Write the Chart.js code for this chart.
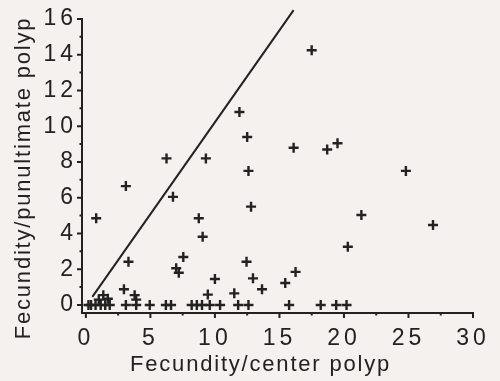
<!DOCTYPE html>
<html><head><meta charset="utf-8">
<script src="https://cdn.jsdelivr.net/npm/chart.js@4"></script>
<style>html,body{margin:0;padding:0;background:#f4f1ee;}canvas{display:block;}</style>
</head><body>
<canvas id="c" width="500" height="381"></canvas>
<script>
const xValues = [17.5, 11.9, 12.5, 16.1, 18.7, 19.5, 6.25, 9.3, 12.6, 24.8, 3.1, 6.75, 12.8, 0.8, 8.75, 9.05, 21.35, 26.9, 20.3, 3.3, 7.55, 7.0, 7.2, 12.45, 10.0, 12.95, 16.25, 15.45, 13.65, 11.5, 9.45, 2.95, 3.78, 3.9, 1.35, 1.0, 1.7,
  0.2, 0.4, 0.75, 1.15, 1.5, 1.85, 3.1, 3.9, 4.95, 6.2, 6.6, 8.2, 8.6, 9.0, 9.6, 10.4, 11.8, 12.6, 15.75, 18.2, 19.4, 20.2];
const yValues = [14.25, 10.8, 9.4, 8.8, 8.7, 9.05, 8.2, 8.2, 7.5, 7.5, 6.65, 6.05, 5.5, 4.85, 4.85, 3.82, 5.03, 4.47, 3.26, 2.42, 2.68, 2.05, 1.8, 2.42, 1.45, 1.49, 1.85, 1.23, 0.88, 0.65, 0.58, 0.88, 0.55, 0.3, 0.55, 0.3, 0.35,
  0, 0, 0, 0, 0, 0, 0, 0, 0, 0, 0, 0, 0, 0, 0, 0, 0, 0, 0, 0, 0, 0];
const lineX = [0.5, 16.1];
const lineY = [0.45, 16.5];
const xTicks = [0, 5, 10, 15, 20, 25, 30];
const xMinorTicks = [2.5, 7.5, 12.5, 17.5, 22.5, 27.5];
const yTicks = [0, 2, 4, 6, 8, 10, 12, 14, 16];
const yMinorTicks = [1, 3, 5, 7, 9, 11, 13, 15];
const xTitle = 'Fecundity/center polyp';
const yTitle = 'Fecundity/punultimate polyp';

const ink = '#222';
const bg = '#f4f1ee';
const fam = '"Liberation Sans", Arial, Helvetica, sans-serif';

const decor = {
  id: 'decor',
  beforeDraw(chart) {
    const ctx = chart.ctx;
    ctx.save(); ctx.fillStyle = bg; ctx.fillRect(0, 0, chart.width, chart.height); ctx.restore();
    for (const s of Object.values(chart.scales)) {
      if (s._patched) continue;
      s._patched = true;
      const dl = s.drawLabels, dt = s.drawTitle;
      const shift = s.axis === 'x' ? [-17, 0] : [0, 12];
      s.drawLabels = function (a) { ctx.save(); ctx.letterSpacing = '4px'; dl.call(this, a); ctx.restore(); };
      s.drawTitle = function () { ctx.save(); ctx.letterSpacing = '1.8px'; ctx.translate(shift[0], shift[1]); dt.call(this); ctx.restore(); };
    }
  },
  afterDraw(chart) {
    const ctx = chart.ctx, xs = chart.scales.x, ys = chart.scales.y;
    const left = chart.chartArea.left, bottom = chart.chartArea.bottom;
    ctx.save();
    ctx.strokeStyle = ink; ctx.lineWidth = 2;
    ctx.beginPath();
    yTicks.forEach(v => { const p = ys.getPixelForValue(v); ctx.moveTo(left, p); ctx.lineTo(left - 5, p); });
    yMinorTicks.forEach(v => { const p = ys.getPixelForValue(v); ctx.moveTo(left, p); ctx.lineTo(left - 2.5, p); });
    xTicks.forEach(v => { const p = xs.getPixelForValue(v); ctx.moveTo(p, bottom); ctx.lineTo(p, bottom + 5); });
    xMinorTicks.forEach(v => { const p = xs.getPixelForValue(v); ctx.moveTo(p, bottom); ctx.lineTo(p, bottom + 2.5); });
    ctx.stroke();
    ctx.restore();
  }
};

new Chart(document.getElementById('c'), {
  type: 'scatter',
  data: {
    datasets: [
      {
        data: xValues.map((x, i) => ({ x, y: yValues[i] })),
        pointStyle: 'cross', pointRadius: 5, pointBorderWidth: 2.4,
        borderColor: ink, backgroundColor: ink, showLine: false, clip: false
      },
      {
        data: lineX.map((x, i) => ({ x, y: lineY[i] })),
        showLine: true, pointRadius: 0, borderColor: ink, borderWidth: 2, clip: false
      }
    ]
  },
  options: {
    responsive: false, animation: false, devicePixelRatio: 1,
    layout: { padding: { top: 19, right: 27, left: 0, bottom: 0 } },
    plugins: { legend: { display: false }, tooltip: { enabled: false } },
    scales: {
      x: {
        type: 'linear', min: -0.3, max: 30,
        afterBuildTicks: s => { s.ticks = xTicks.map(v => ({ value: v })); },
        afterFit: s => { s.height = 68; },
        grid: { display: false, drawTicks: false },
        border: { display: true, color: ink, width: 2 },
        ticks: { autoSkip: false, maxRotation: 0, padding: 12, color: ink, font: { family: fam, size: 23 } },
        title: { display: true, text: xTitle, color: ink, font: { family: fam, size: 22 }, padding: { top: 0, bottom: 3 } }
      },
      y: {
        type: 'linear', min: -0.45, max: 16,
        afterBuildTicks: s => { s.ticks = yTicks.map(v => ({ value: v })); },
        afterFit: s => { s.width = 82; },
        grid: { display: false, drawTicks: false },
        border: { display: true, color: ink, width: 2 },
        ticks: { autoSkip: false, padding: 5, color: ink, font: { family: fam, size: 23 } },
        title: { display: true, text: yTitle, color: ink, font: { family: fam, size: 22 }, padding: { top: 11, bottom: 0 } }
      }
    }
  },
  plugins: [decor]
});
</script>
</body></html>
